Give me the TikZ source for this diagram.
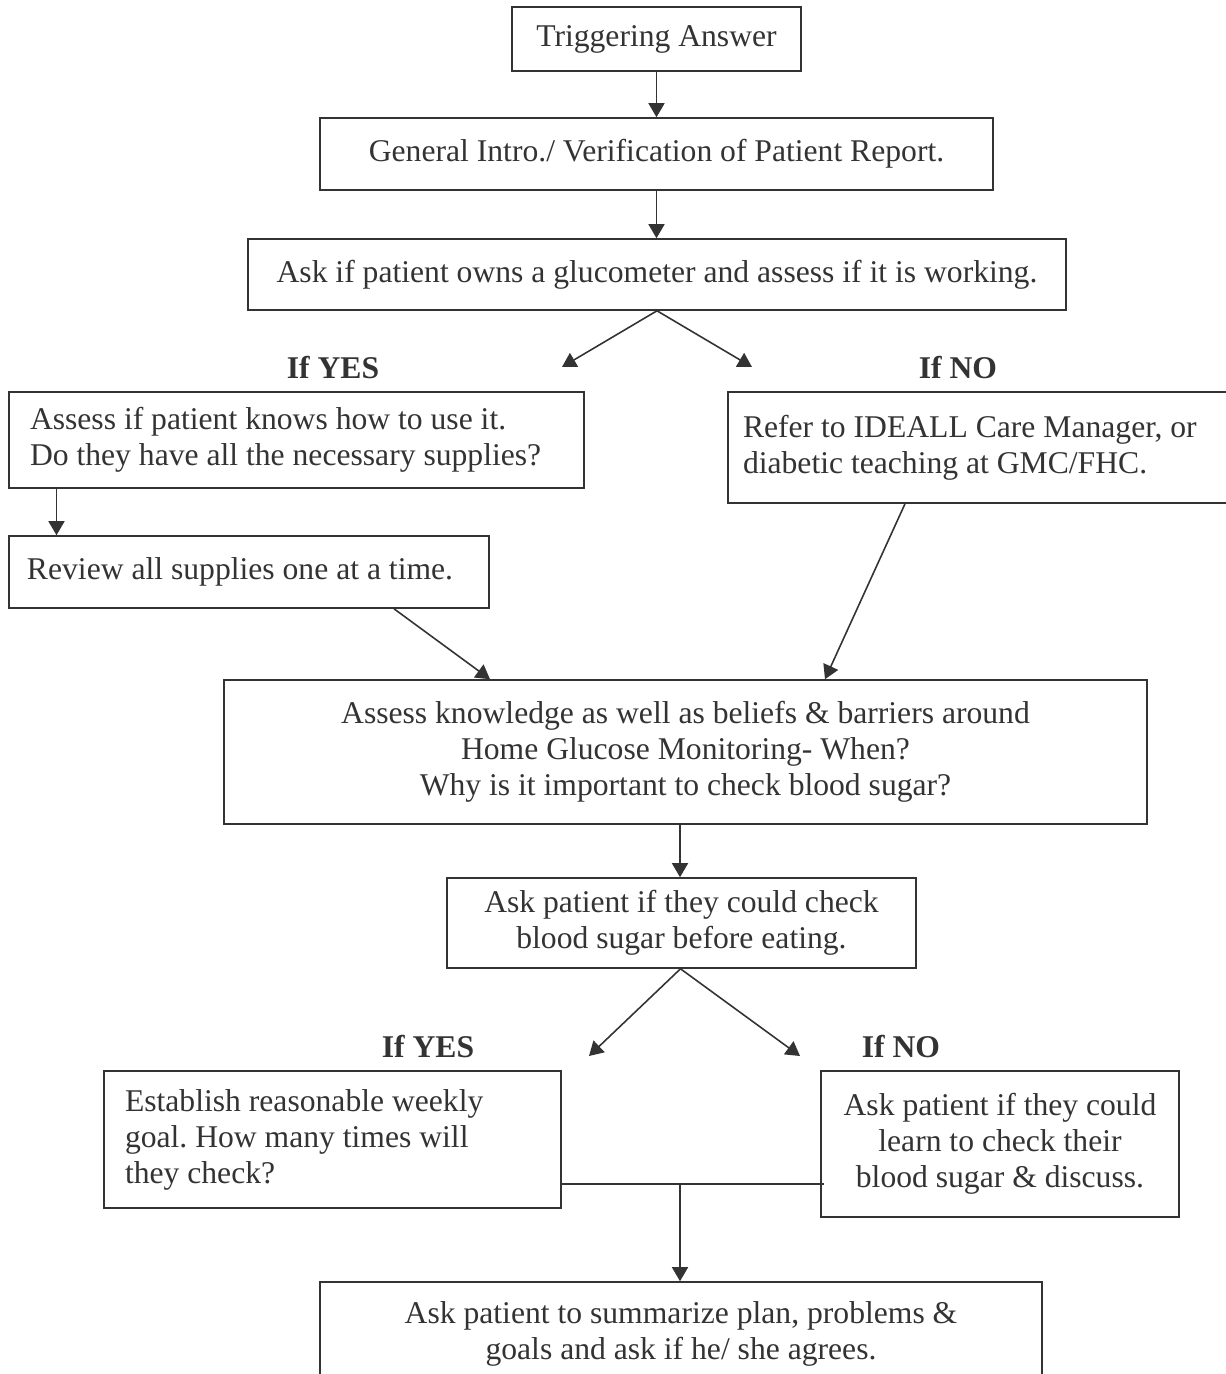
\documentclass[tikz,border=0pt]{standalone}
\usepackage{fontspec}
\setmainfont{Liberation Serif}
\usetikzlibrary{arrows.meta}
\definecolor{ink}{HTML}{333333}
\frenchspacing

\begin{document}
\begin{tikzpicture}[
    every node/.style={font=\fontsize{18}{20.5}\selectfont, text=ink},
    box/.style={draw=ink, line width=0.9pt, align=center, inner sep=2pt},
    lbox/.style={box, align=flush left, inner xsep=0.42cm},
    answer/.style={font=\fontsize{18}{20.5}\selectfont\bfseries},
    arr/.style={draw=ink, line width=0.9pt, -{Triangle[length=0.28cm, width=0.32cm]}},
    link/.style={draw=ink, line width=0.9pt},
  ]
    \useasboundingbox (0,0) rectangle (24.5,-27.48);
    % top of the chart
    \node[box, minimum width=5.78cm, minimum height=1.28cm] (trig) at (13.13,-0.78) {Triggering Answer};
    \node[box, minimum width=13.46cm, minimum height=1.44cm] (intro) at (13.13,-3.08) {General Intro./ Verification of Patient Report.};
    \node[box, minimum width=16.36cm, minimum height=1.42cm] (owns) at (13.14,-5.49) {Ask if patient owns a glucometer and assess if it is working.};
    \draw[arr] (trig) -- (intro);
    \draw[arr] (intro.south) -- (intro.south |- owns.north);
    % first split
    \coordinate (yesA) at (11.24,-7.34);
    \coordinate (noA) at (15.04,-7.34);
    \draw[arr] (owns.south) -- (yesA);
    \draw[arr] (owns.south) -- (noA);
    \node[answer] (yes1) at (6.66,-7.36) {If YES};
    \node[answer] (no1) at (19.16,-7.36) {If NO};
    \node[lbox, minimum width=11.5cm, minimum height=1.92cm, text width=10.66cm] (know) at (5.93,-8.80)
      {Assess if patient knows how to use it.\\Do they have all the necessary supplies?};
    \node[lbox, inner xsep=0.3cm, minimum width=10.24cm, minimum height=2.22cm, text width=9.64cm] (refer) at (19.68,-8.95)
      {Refer to IDEALL Care Manager, or\\diabetic teaching at GMC/FHC.};
    \node[lbox, inner xsep=0.36cm, minimum width=9.6cm, minimum height=1.44cm, text width=8.88cm] (review) at (4.98,-11.44)
      {Review all supplies one at a time.};
    \draw[arr] (1.13,0 |- know.south) -- (1.13,0 |- review.north);
    % middle of the chart
    \node[box, minimum width=18.46cm, minimum height=2.88cm] (assess) at (13.71,-15.04)
      {Assess knowledge as well as beliefs \& barriers around\\Home Glucose Monitoring- When?\\Why is it important to check blood sugar?};
    \draw[arr] (7.88,0 |- review.south) -- (9.8,0 |- assess.north);
    \draw[arr] (18.1,0 |- refer.south) -- (16.5,0 |- assess.north);
    \node[box, minimum width=9.38cm, minimum height=1.80cm] (before) at (13.63,-18.46)
      {Ask patient if they could check\\blood sugar before eating.};
    \draw[arr] (13.6,0 |- assess.south) -- (13.6,0 |- before.north);
    % second split
    \coordinate (yesB) at (11.78,-21.12);
    \coordinate (noB) at (16.0,-21.12);
    \draw[arr] (13.61,0 |- before.south) -- (yesB);
    \draw[arr] (13.61,0 |- before.south) -- (noB);
    \node[answer] (yes2) at (8.56,-20.94) {If YES};
    \node[answer] (no2) at (18.02,-20.94) {If NO};
    \node[lbox, minimum width=9.14cm, minimum height=2.74cm, text width=8.3cm] (goal) at (6.65,-22.79)
      {Establish reasonable weekly\\goal. How many times will\\they check?};
    \node[box, minimum width=7.16cm, minimum height=2.92cm] (learn) at (20.0,-22.88)
      {Ask patient if they could\\learn to check their\\blood sugar \& discuss.};
    % joining line
    \coordinate (join) at (13.6,-23.68);
    \draw[link] (goal.east |- join) -- ([xshift=0.08cm]learn.west |- join);
    \node[box, minimum width=14.44cm, minimum height=2.06cm] (summ) at (13.62,-26.67)
      {Ask patient to summarize plan, problems \&\\goals and ask if he/ she agrees.};
    \draw[arr] (join) -- (join |- summ.north);
\end{tikzpicture}
\end{document}
